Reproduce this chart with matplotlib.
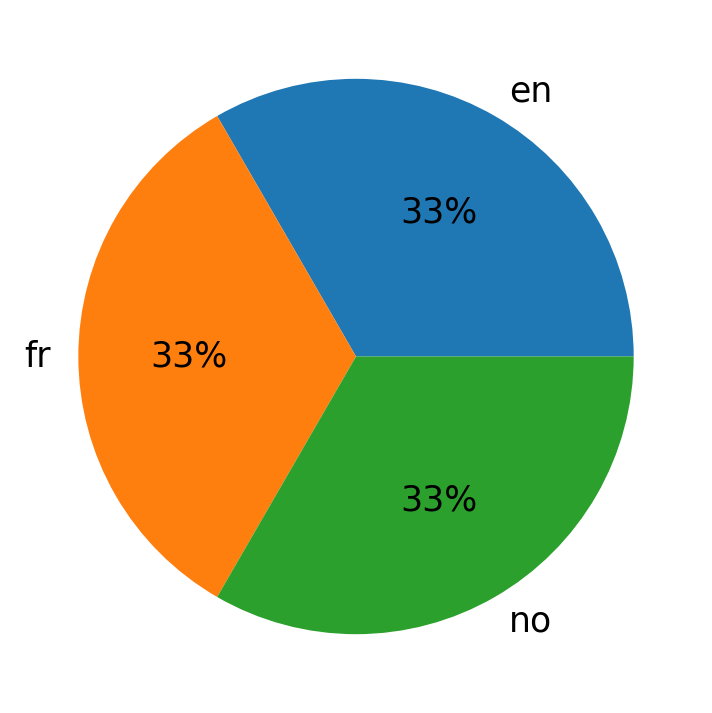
import matplotlib
matplotlib.use("Agg")
import matplotlib.pyplot as plt

labels = ["en", "fr", "no"]
values = [1, 1, 1]

fig = plt.figure(figsize=(7.12, 7.13), dpi=100)
ax = fig.add_axes([0.0125, 0.0125, 0.975, 0.975])
ax.pie(values, labels=labels, autopct="%1.0f%%", textprops={"fontsize": 25})
ax.set_aspect("equal")
fig.savefig("out.png", dpi=100)
